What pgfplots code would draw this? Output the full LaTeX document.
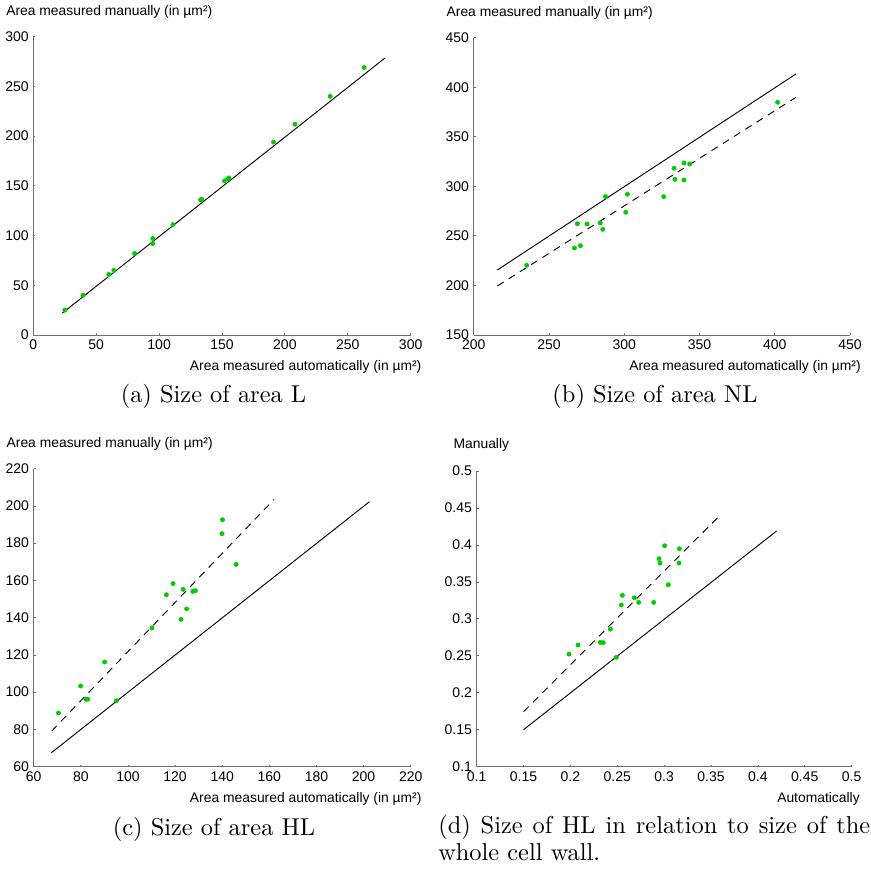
\documentclass[border=0pt]{standalone}
\usepackage{pgfplots}
\pgfplotsset{compat=1.18}
\usepackage{fontspec}
\newfontfamily\arial{Liberation Sans}
\newfontfamily\capfont{lmroman10-regular}[Extension=.otf]
\definecolor{ptgreen}{RGB}{0,204,0}
\definecolor{axgray}{RGB}{110,110,110}
\pgfplotsset{
  myaxis/.style={
    scale only axis,
    axis lines=left,
    axis line style={axgray, line width=0.6pt, -},
    x axis line style={-}, y axis line style={-},
    tick align=inside, major tick length=1.5pt,
    tick style={axgray, line width=0.6pt},
    every tick label/.append style={font=\arial\fontsize{10.5}{12}\selectfont, text=black},
    /pgf/number format/assume math mode=true,
    every axis y label/.style={at={(axis description cs:0,1)}, anchor=west, inner sep=0pt,
      xshift=-20.5pt, yshift=18.5pt, font=\arial\fontsize{10.4}{12}\selectfont},
    every axis x label/.style={at={(axis description cs:1,0)}, anchor=east, inner sep=0pt,
      xshift=8.25pt, yshift=-24.2pt, font=\arial\fontsize{10.4}{12}\selectfont},
    clip=false,
  },
  pts/.style={only marks, mark=*, mark size=1.6pt, color=ptgreen, mark options={draw=ptgreen, fill=ptgreen}},
  fit/.style={black, line width=0.7pt, no marks},
  dfit/.style={black, line width=0.7pt, no marks, dash pattern=on 5.5pt off 4.5pt},
}
\begin{document}
\begin{tikzpicture}
\useasboundingbox (0,0) rectangle (653.25pt,652.5pt);
% (a)
\begin{axis}[myaxis, at={(25pt,401.25pt)}, anchor=south west, width=283pt, height=223.7pt,
  xmin=0, xmax=300, ymin=0, ymax=300, xtick={0,50,...,300}, ytick={0,50,...,300},
  xlabel={Area measured automatically (in µm²)}, ylabel={Area measured manually (in µm²)}]
\addplot[fit] coordinates {(23,22) (279.5,278.5)};
\addplot[pts] coordinates {
(25,25) (39.5,40) (60,61) (64,65) (80.5,82) (95,97) (95,92) (111,111)
(133,136) (134,136.5) (152,155) (154.5,157) (155.5,158) (191,194)
(208,212) (236,240) (263,269)};
\end{axis}
% (b)
\begin{axis}[myaxis, at={(355.3pt,401.25pt)}, anchor=south west, width=282.2pt, height=223pt,
  xmin=200, xmax=450, ymin=150, ymax=450, xtick={200,250,...,450}, ytick={150,200,...,450},
  xlabel={Area measured automatically (in µm²)}, ylabel={Area measured manually (in µm²)}]
\addplot[fit] coordinates {(215.7,215.6) (414.1,413.4)};
\addplot[dfit] coordinates {(215.7,199.4) (414.1,389.8)};
\addplot[pts] coordinates {
(235.2,220.3) (266.9,237.8) (270.9,240.1) (268.9,262.3) (275.3,262) (284.1,263)
(285.7,256.6) (287.5,289.6) (301,273.8) (302.1,292) (326.2,289.6) (333.1,318.2)
(333.7,307.1) (339.7,323.6) (339.7,306.4) (343.5,322.6) (401.9,384.8)};
\end{axis}
% (c)
\begin{axis}[myaxis, at={(25.3pt,77.5pt)}, anchor=south west, width=282.75pt, height=223.5pt,
  xmin=60, xmax=220, ymin=60, ymax=220, xtick={60,80,...,220}, ytick={60,80,...,220},
  xlabel={Area measured automatically (in µm²)}, ylabel={Area measured manually (in µm²)}]
\addplot[fit] coordinates {(67.5,67.5) (202.5,202.3)};
\addplot[dfit] coordinates {(67.6,79.1) (162,203.5)};
\addplot[pts] coordinates {
(70.5,88.8) (79.9,103.3) (82.2,96.2) (82.9,96.2) (90.1,116.2) (95.1,95.4)
(110.2,134.5) (116.3,152.3) (119.1,158.3) (123.4,155.2) (122.5,139.1) (124.9,144.7)
(127.5,154.1) (128.6,154.5) (139.9,185.1) (140.1,192.6) (145.9,168.6)};
\end{axis}
% (d)
\begin{axis}[myaxis, at={(357.5pt,77.5pt)}, anchor=south west, width=281.25pt, height=221.7pt,
  xmin=0.1, xmax=0.5, ymin=0.1, ymax=0.5, xtick={0.1,0.15,...,0.51}, ytick={0.1,0.15,...,0.51},
  xlabel={Automatically}, ylabel={Manually},
  xlabel style={xshift=-2pt, yshift=0pt},
  ylabel style={xshift=3pt, yshift=0.8pt}]
\addplot[fit] coordinates {(0.15,0.15) (0.42,0.419)};
\addplot[dfit] coordinates {(0.15,0.1744) (0.3606,0.4414)};
\addplot[pts] coordinates {
(0.1985,0.2524) (0.2081,0.2646) (0.2319,0.2682) (0.2351,0.2678) (0.2426,0.2862)
(0.249,0.2479) (0.2543,0.3187) (0.2554,0.3318) (0.2682,0.3286) (0.2728,0.3223)
(0.2888,0.3223) (0.2945,0.3814) (0.2956,0.3755) (0.3005,0.399) (0.3044,0.3462)
(0.3162,0.3949) (0.3158,0.3755)};
\end{axis}
% captions
\node[font=\capfont\fontsize{18.3}{20.5}\selectfont, inner sep=0pt] at (160.1pt,355.5pt) {(a) Size of area L};
\node[font=\capfont\fontsize{18.3}{20.5}\selectfont, inner sep=0pt] at (491.25pt,355.5pt) {(b) Size of area NL};
\node[font=\capfont\fontsize{18.3}{20.5}\selectfont, inner sep=0pt] at (160.5pt,30.4pt) {(c) Size of area HL};
\node[font=\capfont\fontsize{18.3}{20.3}\selectfont, inner sep=0pt, anchor=north west, text width=324pt, align=justify]
  at (328.5pt,41.25pt) {(d) Size of HL in relation to size of the whole cell wall.};
\end{tikzpicture}
\end{document}
